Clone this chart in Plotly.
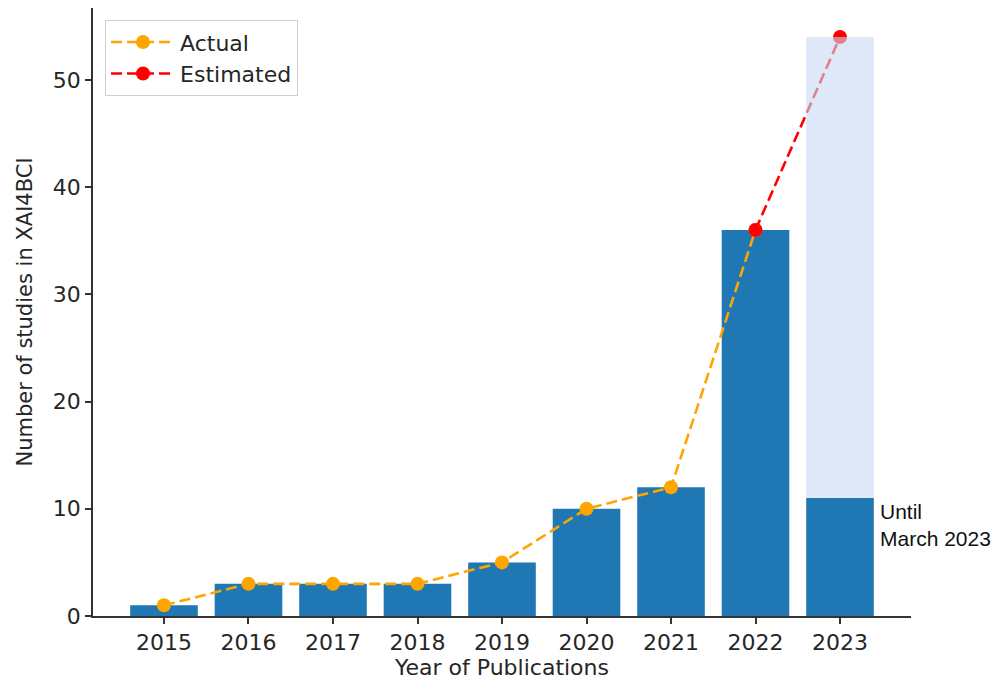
import plotly.graph_objects as go

years = [2015, 2016, 2017, 2018, 2019, 2020, 2021, 2022, 2023]
counts = [1, 3, 3, 3, 5, 10, 12, 36, 11]
actual_years = [2015, 2016, 2017, 2018, 2019, 2020, 2021, 2022]
actual_vals = [1, 3, 3, 3, 5, 10, 12, 36]
est_years = [2022, 2023]
est_vals = [36, 54]
y_ticks = [0, 10, 20, 30, 40, 50]

BAR = "#1f77b4"
ORANGE = "#FFA500"
RED = "#FF0000"
TXT = "#262626"
FONT = "DejaVu Sans"
FS = 22

fig = go.Figure()
fig.add_trace(go.Bar(x=years, y=counts, marker=dict(color=BAR, line=dict(width=0)),
                     width=0.8, showlegend=False, hoverinfo="skip"))
fig.add_trace(go.Scatter(x=actual_years, y=actual_vals, mode="lines+markers", name="Actual",
                         line=dict(color=ORANGE, width=2.6, dash="11px,5px"),
                         marker=dict(color=ORANGE, size=14), cliponaxis=False))
fig.add_trace(go.Scatter(x=est_years, y=est_vals, mode="lines+markers", name="Estimated",
                         line=dict(color=RED, width=2.6, dash="11px,5px"),
                         marker=dict(color=RED, size=14), cliponaxis=False))
# estimated bar drawn on overlay axes so it sits above the line
fig.add_trace(go.Bar(x=[years[-1]], y=[est_vals[-1] - counts[-1]], base=[counts[-1]],
                     width=0.8, marker=dict(color="rgba(200,217,243,0.6)", line=dict(width=0)),
                     xaxis="x2", yaxis="y2", showlegend=False, hoverinfo="skip"))

xr = [2014.16, 2023.84]
yr = [0, 56.7]
fig.update_layout(
    width=997, height=683,
    margin=dict(l=93, r=86, t=8, b=67),
    paper_bgcolor="white", plot_bgcolor="white",
    font=dict(family=FONT, size=FS, color=TXT),
    showlegend=True,
    legend=dict(x=0.0147, y=0.98, xanchor="left", yanchor="top",
                bgcolor="white", bordercolor="#d0d0d0", borderwidth=1,
                font=dict(family=FONT, size=FS, color=TXT), itemwidth=64,
                tracegroupgap=0),
    xaxis=dict(range=xr, tickmode="array", tickvals=years, ticktext=[str(y) for y in years],
               showgrid=False, zeroline=False, showline=True, linecolor="#333", linewidth=1.6,
               ticks="outside", ticklen=6, tickwidth=1.6, tickcolor="#333",
               tickfont=dict(size=FS, family=FONT, color=TXT),
               title=dict(text="Year of Publications", font=dict(size=FS, family=FONT, color=TXT), standoff=4)),
    yaxis=dict(range=yr, tickmode="array", tickvals=y_ticks,
               showgrid=False, zeroline=False, showline=True, linecolor="#333", linewidth=1.6,
               ticks="outside", ticklen=6, tickwidth=1.6, tickcolor="#333",
               tickfont=dict(size=FS, family=FONT, color=TXT),
               title=dict(text="Number of studies in XAI4BCI", font=dict(size=21, family=FONT, color=TXT), standoff=14)),
    xaxis2=dict(overlaying="x", matches="x", visible=False, range=xr),
    yaxis2=dict(overlaying="y", matches="y", visible=False, range=yr),
    annotations=[dict(x=2023.45, y=counts[-1], xref="x", yref="y", xanchor="left", yanchor="top",
                      text="Until<br>March 2023", showarrow=False, align="left",
                      font=dict(family="Liberation Sans", size=21, color="#111"))],
)
fig.write_html("out.html", config={"displayModeBar": False},
               post_script="document.body.style.margin='0';document.body.style.overflow='hidden';")
